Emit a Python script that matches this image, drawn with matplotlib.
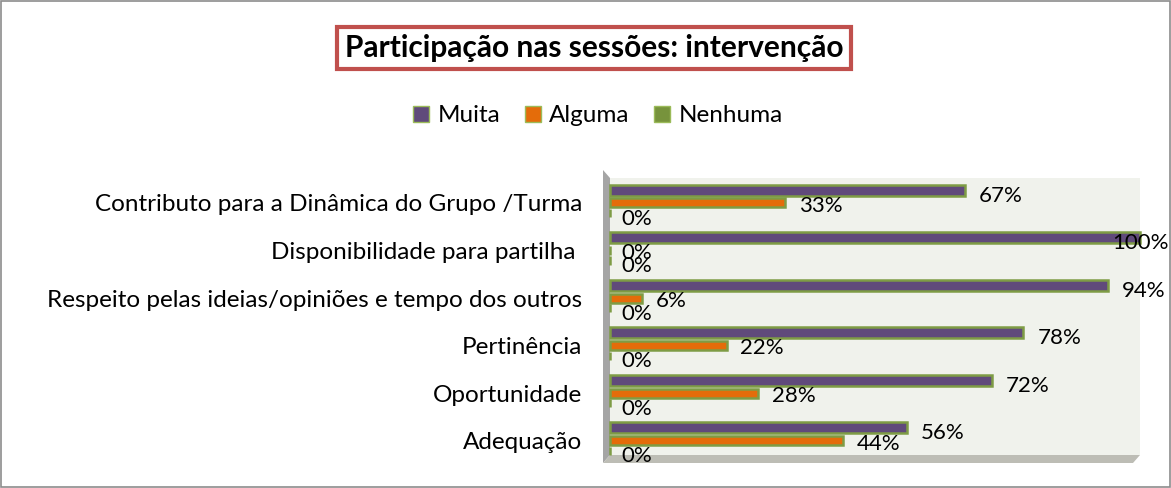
import numpy as np
import matplotlib
matplotlib.use("Agg")
import matplotlib.pyplot as plt
from matplotlib.patches import Patch, Polygon, Rectangle

plt.rcParams['font.family'] = ['Lato', 'DejaVu Sans']

categories = ["Contributo para a Dinâmica do Grupo /Turma",
              "Disponibilidade para partilha ",
              "Respeito pelas ideias/opiniões e tempo dos outros",
              "Pertinência",
              "Oportunidade",
              "Adequação"]
series = ["Muita", "Alguma", "Nenhuma"]
muita = [67, 100, 94, 78, 72, 56]
alguma = [33, 0, 6, 22, 28, 44]
nenhuma = [0, 0, 0, 0, 0, 0]

colors = ["#604A7B", "#E46C0A", "#77933C"]
edge = "#7E9C45"

W, H = 1171, 488
fig = plt.figure(figsize=(W / 100, H / 100), dpi=100)

def px(x, y):
    return x / W, 1 - y / H

# plot area
x0, x1, ytop, ybot = 610, 1140, 178, 455
ax = fig.add_axes([x0 / W, 1 - ybot / H, (x1 - x0) / W, (ybot - ytop) / H])
ax.set_facecolor("#F0F2EC")

# left wall and floor (3D look), drawn under the axes
fig.patches.append(Polygon([px(603, 170), px(610, 178), px(610, 455), px(603, 463)],
                           closed=True, fc="#A5A5A5", ec="none", zorder=-1,
                           transform=fig.transFigure))
fig.patches.append(Polygon([px(603, 463), px(610, 455), px(1140, 455), px(1133, 463)],
                           closed=True, fc="#BDBDB5", ec="none", zorder=-1,
                           transform=fig.transFigure))

y = np.arange(len(categories))
offsets = [-0.27, 0.0, 0.21]
heights = [0.23, 0.19, 0.17]
values = [muita, alguma, nenhuma]

for s, (vals, off, h, c) in enumerate(zip(values, offsets, heights, colors)):
    ax.barh(y + off, vals, height=h, color=c, edgecolor=edge, linewidth=1.8,
            label=series[s], clip_on=False, zorder=3)
    for yi, v in zip(y, vals):
        if v >= 99:
            dx = -20
        elif v == 0:
            dx = 8
        else:
            dx = 10
        dy = {0: -4, 1: -2, 2: -4}[s]
        ax.annotate(f"{v}%", (v, yi + off), xytext=(dx, dy), textcoords="offset points",
                    ha="left", va="center", fontsize=16, color="black",
                    annotation_clip=False, zorder=5)

ax.set_xlim(0, 100)
ax.set_ylim(5.3, -0.525)
ax.set_yticks(y)
ax.set_yticklabels(categories, fontsize=17.5)
ax.tick_params(axis="y", length=0, pad=20)
ax.set_xticks([])
for sp in ax.spines.values():
    sp.set_visible(False)

# title
fig.text(594 / W, 1 - 48 / H, "Participação nas sessões: intervenção", ha="center", va="center",
         fontsize=21.5, fontweight="bold",
         bbox=dict(boxstyle="square,pad=0.25", fc="white", ec="#C0504D", lw=3))

handles = [Patch(facecolor=c, edgecolor="#9BBB59", linewidth=1) for c in colors]
fig.legend(handles, series, loc="center", bbox_to_anchor=(598 / W, 1 - 116 / H), ncol=3,
           frameon=False, fontsize=17.5, handlelength=0.65, handleheight=0.65,
           handletextpad=0.35, columnspacing=1.0)

# outer border
fig.patches.append(Rectangle((0.001, 0.002), 0.998, 0.996, fill=False, ec="#8C8C8C", lw=1.2,
                             transform=fig.transFigure))

fig.savefig("out.png", dpi=100)
